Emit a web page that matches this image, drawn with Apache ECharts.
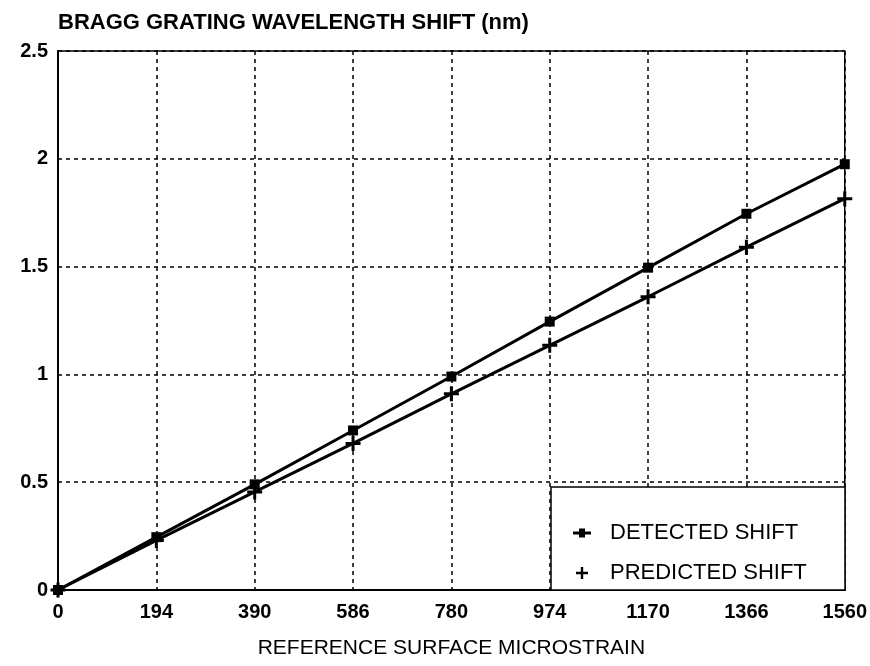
<!DOCTYPE html>
<html>
<head>
<meta charset="utf-8">
<script src="https://cdn.jsdelivr.net/npm/echarts@6/dist/echarts.min.js"></script>
<style>
  html, body { margin: 0; padding: 0; background: #fff; }
  #chart { width: 870px; height: 666px; }
</style>
</head>
<body>
<div id="chart"></div>
<script>
// data
const strainLabels = ['0', '194', '390', '586', '780', '974', '1170', '1366', '1560']
const detectedShift = [0, 0.245, 0.49, 0.74, 0.99, 1.245, 1.495, 1.745, 1.975]
const predictedShift = [0, 0.23, 0.455, 0.68, 0.91, 1.135, 1.36, 1.59, 1.815]

const plusPath = 'path://M4,0 L6,0 L6,4 L10,4 L10,6 L6,6 L6,10 L4,10 L4,6 L0,6 L0,4 L4,4 Z'
const detIcon = 'path://M0,4 L6,4 L6,1 L12,1 L12,4 L18,4 L18,7 L12,7 L12,10 L6,10 L6,7 L0,7 Z'

const font = 'Liberation Sans, Arial, Helvetica, sans-serif'

const chart = echarts.init(document.getElementById('chart'))

const option = {
  backgroundColor: '#fff',
  animation: false,
  textStyle: { fontFamily: font, color: '#000' },
  title: {
    text: 'BRAGG GRATING WAVELENGTH SHIFT (nm)',
    left: 53,
    top: 7,
    textStyle: { fontFamily: font, fontSize: 22, fontWeight: 'bold', color: '#000' }
  },
  grid: {
    left: 58,
    right: 25,
    top: 51,
    bottom: 76,
    show: true,
    borderColor: '#000',
    borderWidth: 1.5
  },
  legend: {
    orient: 'vertical',
    left: 568,
    top: 517,
    itemWidth: 18,
    itemHeight: 12,
    itemGap: 18,
    z: 20,
    textStyle: { fontFamily: font, fontSize: 22, color: '#000', padding: [0, 0, 0, 14] },
    data: [
      { name: 'DETECTED SHIFT', icon: detIcon },
      { name: 'PREDICTED SHIFT', icon: plusPath }
    ]
  },
  graphic: [
    {
      type: 'rect',
      z: 10,
      shape: { x: 551, y: 487, width: 294, height: 103 },
      style: { fill: '#fff', stroke: '#000', lineWidth: 1.5 }
    }
  ],
  xAxis: {
    type: 'category',
    data: strainLabels,
    boundaryGap: false,
    name: 'REFERENCE SURFACE MICROSTRAIN',
    nameLocation: 'middle',
    nameGap: 48,
    nameTextStyle: { fontFamily: font, fontSize: 21, color: '#000' },
    axisLine: { lineStyle: { color: '#000', width: 2 } },
    axisTick: { show: false },
    axisLabel: { fontFamily: font, fontSize: 20, fontWeight: 'bold', color: '#000', margin: 12 },
    splitLine: { show: true, lineStyle: { color: '#000', type: [4, 4], width: 1.5 } }
  },
  yAxis: {
    type: 'value',
    min: 0,
    max: 2.5,
    interval: 0.5,
    axisLine: { show: true, lineStyle: { color: '#000', width: 2 } },
    axisTick: { show: false },
    axisLabel: { fontFamily: font, fontSize: 20, fontWeight: 'bold', color: '#000', margin: 10 },
    splitLine: { show: true, lineStyle: { color: '#000', type: [4, 4], width: 1.5 } }
  },
  series: [
    {
      name: 'DETECTED SHIFT',
      type: 'line',
      data: detectedShift,
      symbol: 'rect',
      symbolSize: 10,
      z: 5,
      lineStyle: { color: '#000', width: 3 },
      itemStyle: { color: '#000' }
    },
    {
      name: 'PREDICTED SHIFT',
      type: 'line',
      data: predictedShift,
      symbol: plusPath,
      symbolSize: 15,
      z: 5,
      lineStyle: { color: '#000', width: 3 },
      itemStyle: { color: '#000' }
    }
  ]
}

chart.setOption(option)
</script>
</body>
</html>
